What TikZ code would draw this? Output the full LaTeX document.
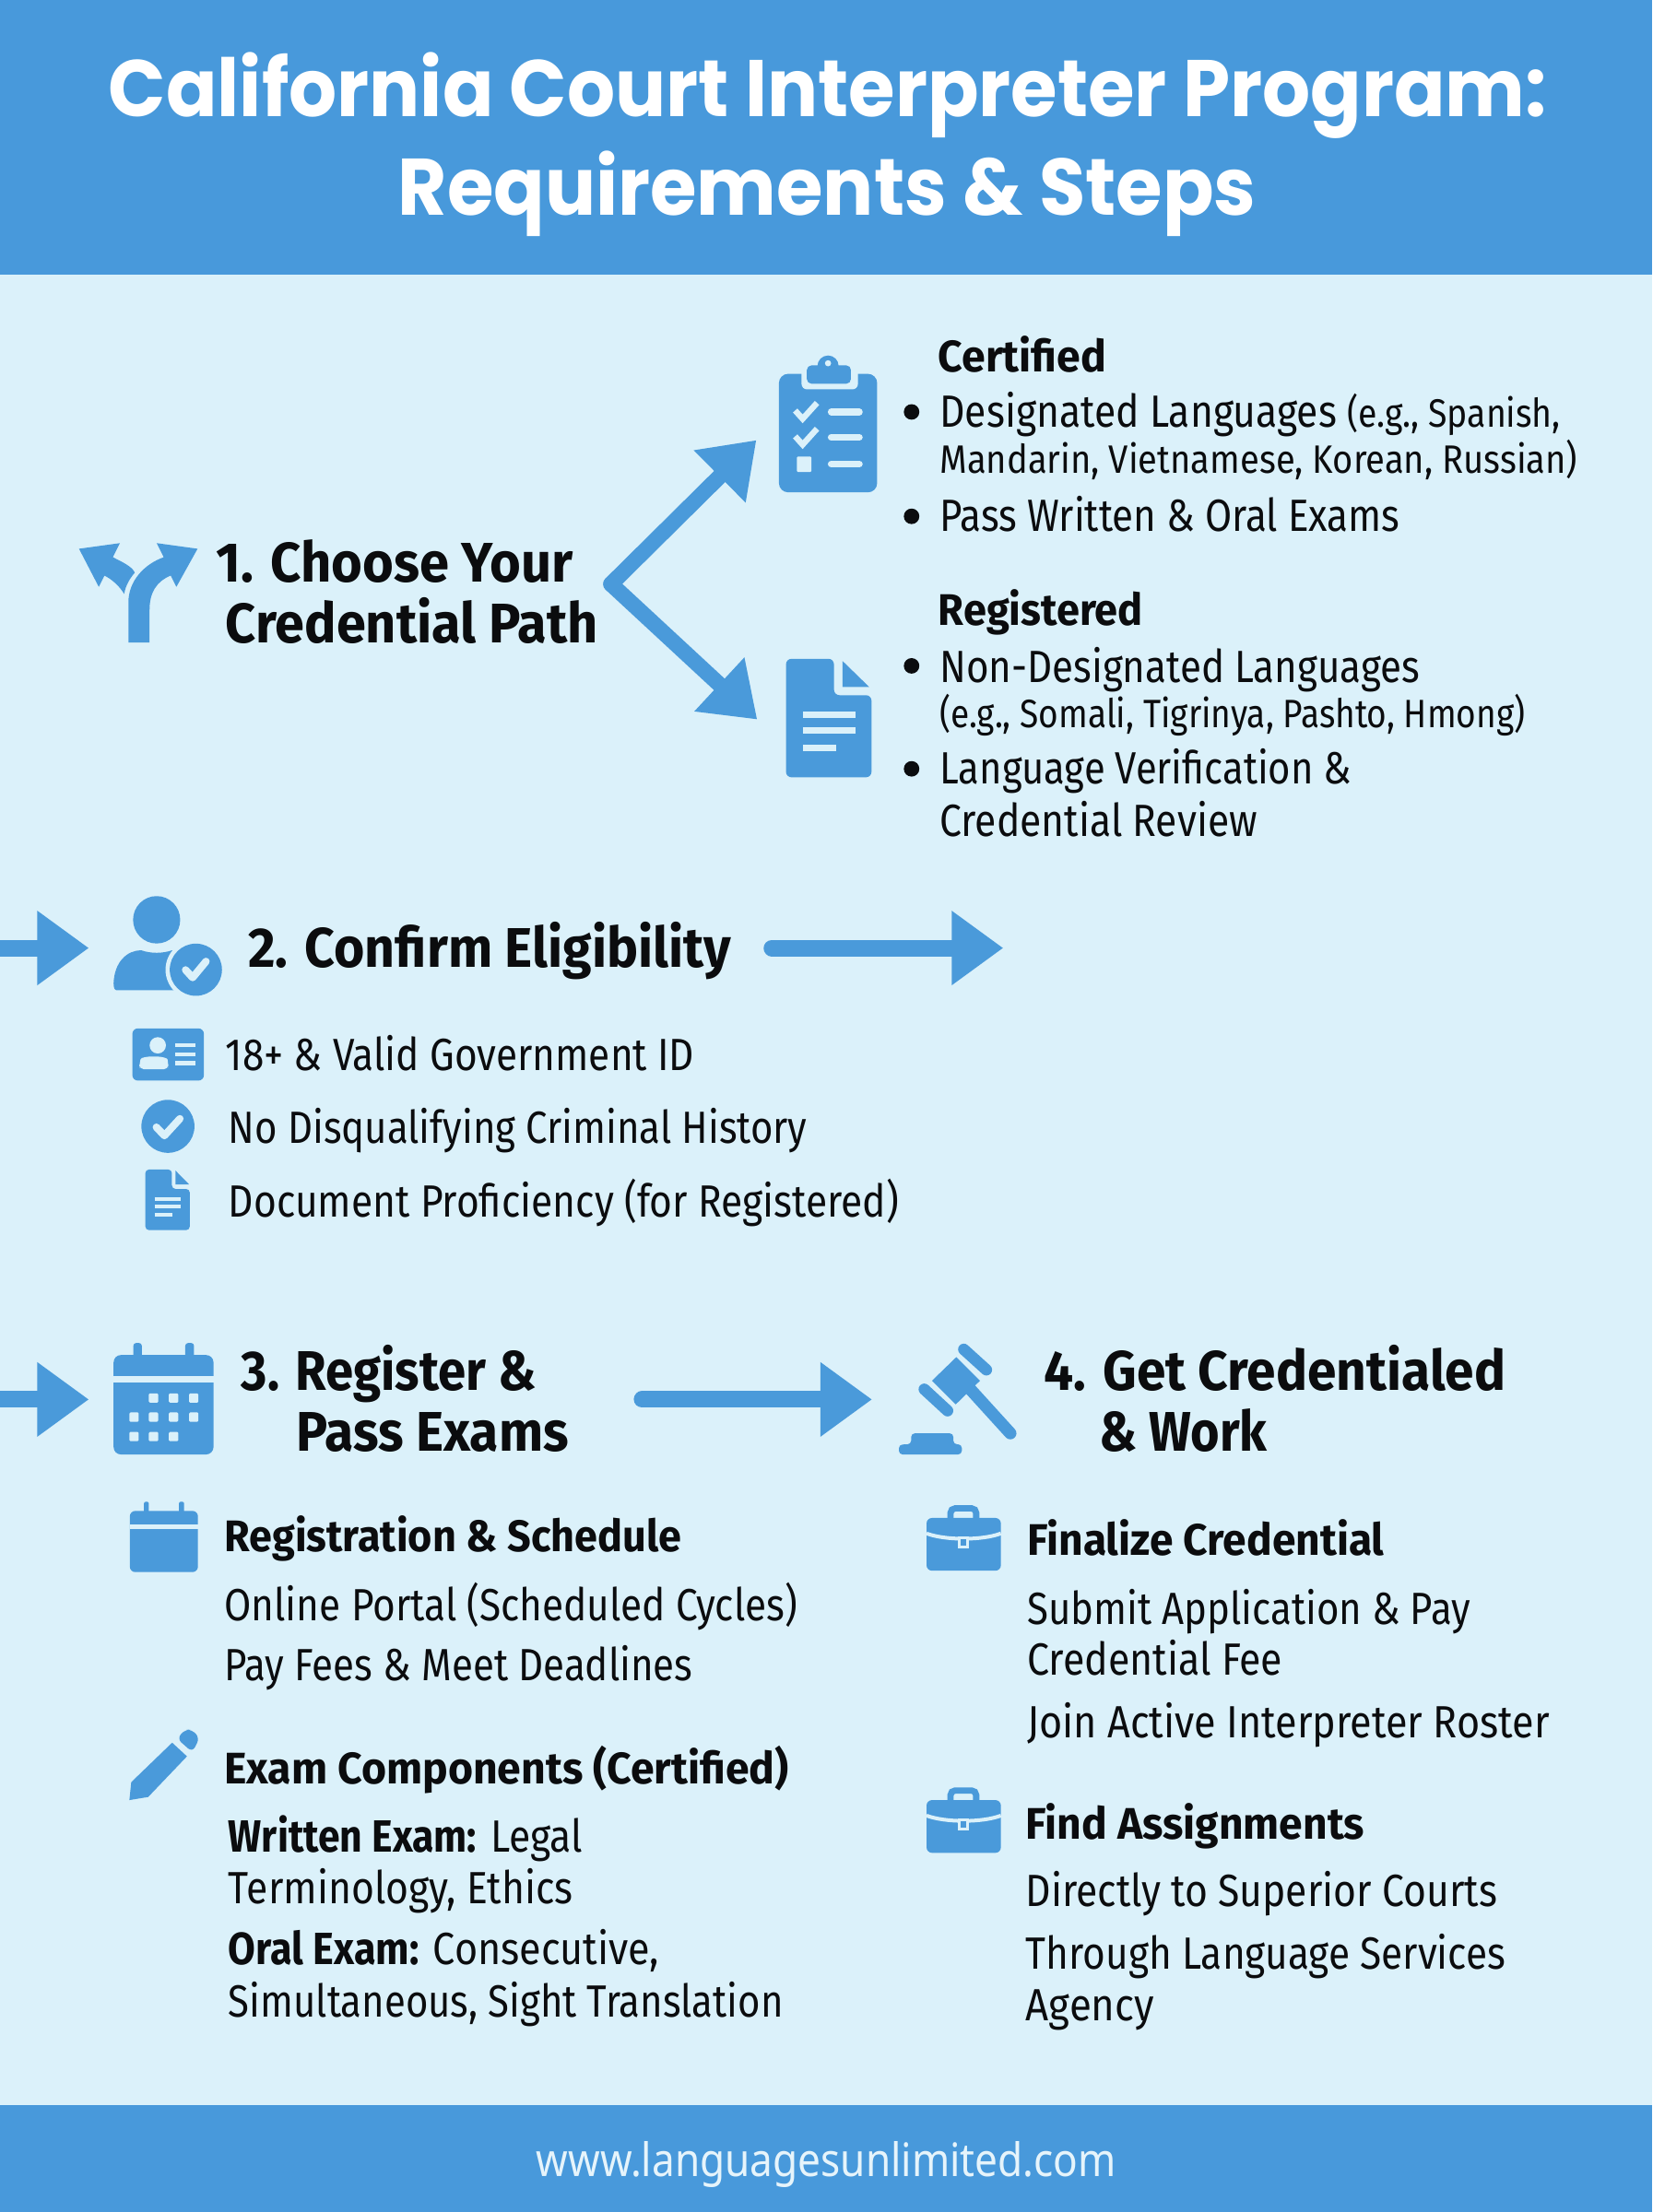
\documentclass[tikz,border=0pt]{standalone}
\usepackage{fontspec}
\usepackage{graphicx}
\usetikzlibrary{arrows.meta}
\setmainfont{Fira Sans}
\newfontfamily\titlefont{Poppins}
\newfontfamily\footfont{Noto Sans}
\definecolor{band}{HTML}{4899DB}
\definecolor{iconblue}{HTML}{4A9ADA}
\definecolor{paper}{HTML}{DBF1FA}
\definecolor{ink}{HTML}{0B0C0E}
\definecolor{footink}{HTML}{E6F4FB}
\newsavebox\fitb
\newcommand\fitto[2]{\sbox\fitb{#2}\edef\fitw{\the\wd\fitb}\pgfmathsetmacro\fitr{#1*0.76531/\fitw}\scalebox{\fitr}[1]{\usebox\fitb}}
\newcommand\tline[6]{\node[txt,#5,anchor=base west] (#1) at (#2,#3+0.6) {\fitto{#4}{#6}};}
\newcommand\smallpart[1]{{\fontsize{21.5pt}{24pt}\selectfont #1}}
\tikzset{
  txt/.style={inner sep=0pt,outer sep=0pt,text=ink},
  titletext/.style={text=white,font=\titlefont\bfseries\fontsize{43.5pt}{50pt}\selectfont},
  heading/.style={font=\bfseries\fontsize{30.3pt}{36pt}\selectfont},
  subhead/.style={font=\bfseries\fontsize{24pt}{30pt}\selectfont},
  bodytext/.style={font=\fontsize{24.5pt}{30pt}\selectfont},
  smalltext/.style={font=\fontsize{21.5pt}{26pt}\selectfont},
  foottext/.style={text=footink,font=\footfont\fontsize{25pt}{30pt}\selectfont},
  icon/.style={fill=iconblue,draw=none},
  cut/.style={draw=paper,line cap=round,line join=round},
  flow/.style={draw=iconblue,line width=8.5pt,line cap=round,line join=round,-{Triangle[length=28pt,width=38pt]}},
  flat/.style={draw=iconblue,line width=9pt,line cap=round,-{Triangle[length=28pt,width=38.5pt]}},
  dotmark/.style={fill=ink,draw=none},
  briefcase/.pic={
    \fill[icon,rounded corners=3pt] (656.6,1076) rectangle (709.3,1113.4);
    \draw[draw=iconblue,line width=3.4pt,rounded corners=2.5pt] (673.6,1076) -- (673.6,1069.2) -- (691.8,1069.2) -- (691.8,1076);
    \draw[cut,line width=2pt,line cap=butt] (656.6,1087) .. controls (670,1092) and (696,1092) .. (709.3,1087);
    \fill[paper] (678.8,1088.8) rectangle (686.8,1097.8);
    \fill[icon] (681,1091) rectangle (684.6,1095.6);
  }
}
\begin{document}
\begin{tikzpicture}[x=0.76531pt,y=-0.76531pt]
\useasboundingbox (0,0) rectangle (1170.8,1568);
\fill[paper] (0,0) rectangle (1170.8,1568);
\fill[band] (0,0) rectangle (1170.8,195);
\fill[band] (0,1492) rectangle (1170.8,1568);

% texts
\tline{t1}{77}{82}{1019}{titletext}{California Court Interpreter Program:}
\tline{t2}{282}{152}{608}{titletext}{Requirements \& Steps}
\tline{h1a}{153}{412}{253}{heading}{1. Choose Your}
\tline{h1b}{160}{455}{264}{heading}{Credential Path}
\tline{c0}{665}{263}{119}{subhead}{Certified}
\tline{c1}{666}{302}{440}{bodytext}{Designated Languages \smallpart{(e.g., Spanish,}}
\tline{c2}{666}{335}{452}{smalltext}{Mandarin, Vietnamese, Korean, Russian)}
\tline{c3}{666}{376}{326}{bodytext}{Pass Written \& Oral Exams}
\tline{r0}{665}{443}{145}{subhead}{Registered}
\tline{r1}{666}{483}{340}{bodytext}{Non-Designated Languages}
\tline{r2}{666}{515}{415}{smalltext}{(e.g., Somali, Tigrinya, Pashto, Hmong)}
\tline{r3}{666}{555}{292}{bodytext}{Language Verification \&}
\tline{r4}{666}{592}{225}{bodytext}{Credential Review}
\tline{h2}{176}{685}{342}{heading}{2. Confirm Eligibility}
\tline{e1}{160}{758}{332}{bodytext}{18+ \& Valid Government ID}
\tline{e2}{162}{810}{410}{bodytext}{No Disqualifying Criminal History}
\tline{e3}{162}{862}{475}{bodytext}{Document Proficiency (for Registered)}
\tline{h3a}{171}{985}{209}{heading}{3. Register \&}
\tline{h3b}{210}{1028}{193}{heading}{Pass Exams}
\tline{h4a}{740}{985}{327}{heading}{4. Get Credentialed}
\tline{h4b}{779}{1028}{119}{heading}{\& Work}
\tline{s1}{159}{1099}{324}{subhead}{Registration \& Schedule}
\tline{s2}{159}{1148}{406}{bodytext}{Online Portal (Scheduled Cycles)}
\tline{s3}{159}{1191}{332}{bodytext}{Pay Fees \& Meet Deadlines}
\tline{x0}{159}{1264}{400}{subhead}{Exam Components (Certified)}
\tline{x1}{162}{1312}{251}{bodytext}{\textbf{Written Exam:} Legal}
\tline{x2}{162}{1349}{244}{bodytext}{Terminology, Ethics}
\tline{x3}{162}{1392}{305}{bodytext}{\textbf{Oral Exam:} Consecutive,}
\tline{x4}{162}{1429}{393}{bodytext}{Simultaneous, Sight Translation}
\tline{f0}{728}{1102}{253}{subhead}{Finalize Credential}
\tline{f1}{728}{1151}{314}{bodytext}{Submit Application \& Pay}
\tline{f2}{728}{1187}{181}{bodytext}{Credential Fee}
\tline{f3}{728}{1231}{370}{bodytext}{Join Active Interpreter Roster}
\tline{a0}{727}{1303}{240}{subhead}{Find Assignments}
\tline{a1}{727}{1351}{334}{bodytext}{Directly to Superior Courts}
\tline{a2}{727}{1395}{340}{bodytext}{Through Language Services}
\tline{a3}{727}{1432}{91}{bodytext}{Agency}
\tline{web}{380}{1542}{411}{foottext}{www.languagesunlimited.com}

% bullets
\foreach \by in {292,366,472,545} \fill[dotmark] (646,\by) circle[radius=5.5];

% connectors
\coordinate (forkv) at (433,414);
\coordinate (tipup) at (536,312);
\coordinate (tipdn) at (536.6,510);
\draw[flow] (forkv) -- (tipup);
\draw[flow] (forkv) -- (tipdn);
\coordinate (inA) at (0,672); \coordinate (inAe) at (63,672);
\coordinate (outAs) at (547,672); \coordinate (outAe) at (711,672);
\coordinate (inB) at (0,992); \coordinate (inBe) at (63,992);
\coordinate (outBs) at (455,992); \coordinate (outBe) at (618,992);
\draw[flat,line cap=butt] (inA) -- (inAe);
\draw[flat] (outAs) -- (outAe);
\draw[flat,line cap=butt] (inB) -- (inBe);
\draw[flat] (outBs) -- (outBe);

% fork icon
\fill[icon] (91,455.5) -- (91,427) .. controls (91,412) and (102,400) .. (116,395) -- (111,385) -- (140,389) -- (125,416) -- (121,408) .. controls (111,412) and (106,420) .. (106,432) -- (106,455.5) -- cycle;
\fill[icon] (56,389) -- (85,385) -- (80,395) .. controls (88,399) and (94,402) .. (95.5,406) .. controls (92,410) and (89,415) .. (88,421) .. controls (85,416) and (80,411) .. (74,408) -- (70,416) -- cycle;

% clipboard
\fill[icon,rounded corners=5pt] (552,265) rectangle (621.6,349);
\fill[paper,rounded corners=3pt] (568,258) rectangle (608,276);
\fill[icon,rounded corners=2.5pt] (571.8,259) rectangle (603,272);
\fill[icon] (586.8,259.5) circle[radius=7.5];
\fill[paper] (586.8,257.5) circle[radius=2.2];
\foreach \cy in {0,18.3} \draw[cut,line width=3.2pt,line cap=butt,line join=miter] (563.5,291+\cy) -- (568.8,296.9+\cy) -- (579,285.6+\cy);
\fill[paper,rounded corners=0.6pt] (564.7,323.6) rectangle (575,334.6);
\foreach \ly in {292,310,329} \draw[cut,line width=3.6pt] (589,\ly) -- (609,\ly);

% document large
\fill[icon,rounded corners=3pt] (557,467) -- (591,467) -- (591,492.8) -- (617.6,492.8) -- (617.6,551) -- (557,551) -- cycle;
\fill[icon] (597,468.5) -- (597,487) -- (616,487) -- cycle;
\draw[cut,line width=3.6pt,line cap=butt] (569,506.5) -- (606,506.5) (569,518) -- (606,518) (569,530) -- (592.8,530);

% person badge
\fill[icon] (111,652) ellipse[x radius=16.7,y radius=16.8];
\fill[icon] (83,702) .. controls (81,702) and (80.5,700) .. (80.5,697) .. controls (81,682) and (90,673.6) .. (100,673.6) .. controls (107,676) and (115,676) .. (122,673.6) -- (128,680) -- (128,702) -- cycle;
\fill[paper] (138.8,687.4) circle[radius=21.5];
\fill[icon] (138.8,687.4) circle[radius=18.5];
\draw[cut,line width=4pt] (131.5,687.5) -- (136.5,693) -- (146,681.5);

% id card
\fill[icon,rounded corners=3pt] (93.8,729) rectangle (144.5,766);
\fill[paper] (111.8,741) circle[radius=5.8];
\fill[paper,rounded corners=2.5pt] (98.8,758) -- (98.8,754) .. controls (100,749.5) and (105,749) .. (109,749) .. controls (114,749) and (118.5,750) .. (119.3,754) -- (119.3,758) -- cycle;
\draw[cut,line width=2.2pt,line cap=butt] (124.3,741) -- (138.3,741) (124.3,747.3) -- (138.3,747.3) (124.3,753.5) -- (138.3,753.5);

% check circle
\fill[icon] (119,798.4) circle[radius=18.8];
\draw[cut,line width=4pt] (110.8,799) -- (116.5,805) -- (127.5,793);

% document small
\fill[icon,rounded corners=2pt] (103,829) -- (121.8,829) -- (121.8,842.8) -- (134.5,842.8) -- (134.5,872) -- (103,872) -- cycle;
\fill[icon] (124.3,829.7) -- (124.3,839.6) -- (134,839.6) -- cycle;
\draw[cut,line width=2.2pt,line cap=butt] (109.5,849.8) -- (128,849.8) (109.5,855.3) -- (128,855.3) (109.5,861) -- (122,861);

% big calendar
\fill[icon,rounded corners=4pt] (80.5,960.5) rectangle (151.3,1031);
\fill[icon,rounded corners=1.5pt] (94.5,952) rectangle (100.5,965);
\fill[icon,rounded corners=1.5pt] (131.3,952) rectangle (137.5,965);
\fill[paper] (80.5,975.5) rectangle (151.3,979.8);
\foreach \dx/\dy in {108.8/991,123/991,137.3/991,95/1004.5,108.8/1004.5,123/1004.5,137.3/1004.5,95/1018.3,108.8/1018.3,123/1018.3}
  \fill[paper,rounded corners=0.6pt] (\dx-3.3,\dy-3.3) rectangle (\dx+3.3,\dy+3.3);

% small calendar
\fill[icon,rounded corners=3pt] (92,1071) rectangle (140.3,1114.4);
\fill[icon,rounded corners=1pt] (102,1064.5) rectangle (105.5,1074);
\fill[icon,rounded corners=1pt] (126.8,1064.5) rectangle (130.5,1074);
\fill[paper] (92,1080.6) rectangle (140.3,1083.6);

% pencil
\fill[icon] (91.7,1276) -- (93,1263.3) -- (122,1235.3) -- (132.5,1245) -- (105,1273.8) -- cycle;
\fill[icon,rounded corners=3pt] (125.5,1232.5) -- (131,1226) -- (136,1226) -- (141.5,1232) -- (136.3,1242) -- cycle;

% gavel
\draw[draw=iconblue,line width=6.2pt,line cap=round] (683,956.5) -- (699,971);
\draw[draw=iconblue,line width=6.2pt,line cap=round] (655,984.8) -- (671.5,1000);
\fill[icon] (677.7,962) -- (694.5,978.7) -- (677.3,995.5) -- (660.5,978.7) -- cycle;
\draw[draw=iconblue,line width=6.6pt,line cap=round] (686,983) -- (716,1016);
\fill[icon,rounded corners=2pt] (637,1031) -- (637,1024) -- (645.7,1023.8) -- (645.7,1016) -- (675.6,1016) -- (675.6,1023.8) -- (681.6,1023.8) -- (681.6,1031) -- cycle;

% briefcases
\pic {briefcase};
\pic[yshift=-153.06pt] {briefcase};
\end{tikzpicture}
\end{document}
